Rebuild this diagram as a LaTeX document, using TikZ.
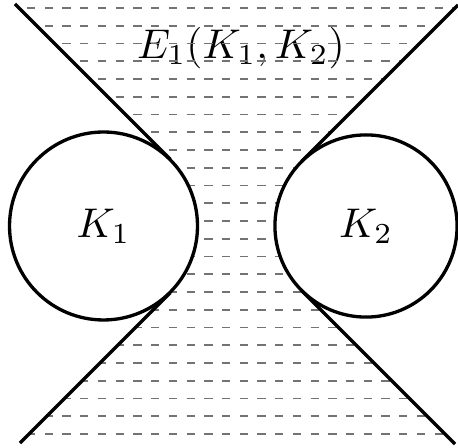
\documentclass[tikz,border=0pt]{standalone}
\usetikzlibrary{calc}

\begin{document}
\begin{tikzpicture}[x=0.241pt, y=0.241pt,
  hatch/.style={black!55, line width=0.4pt, dash pattern=on 2pt off 2.27pt},
  body/.style={circle, draw, thick, fill=white, inner sep=0pt}]
  \useasboundingbox (0,0) rectangle (458,447);

  % Ends of the two tangent lines
  \coordinate (a) at (15,443);
  \coordinate (b) at (20,4);
  \coordinate (c) at (455,3);
  \coordinate (d) at (458,442);

  % Centres of the bodies
  \coordinate (c1) at (103.5,221);
  \coordinate (c2) at (366,221);

  % Tangent points
  \coordinate (t1) at ($(a)!(c1)!(c)$);
  \coordinate (t3) at ($(b)!(c1)!(d)$);
  \coordinate (t2) at ($(b)!(c2)!(d)$);
  \coordinate (t4) at ($(a)!(c2)!(c)$);

  % Label of the region
  \node (title) at (241,399) {$E_1(K_1,K_2)$};

  % Hatched region
  \begin{scope}
    \clip (a) -- (t1) -- (t3) -- (b) -- (c) -- (t4) -- (t2) -- (d) -- cycle;
    \foreach \k in {0,...,24}
      \draw[hatch] (-8.4,439-17.75*\k) -- (470,439-17.75*\k);
  \end{scope}

  % Bodies
  \node[body, minimum size=45.3pt] (k1) at (c1) {$K_1$};
  \node[body, minimum size=43.9pt] (k2) at (c2) {$K_2$};

  % Tangent lines
  \draw[thick] (a) -- (t1);
  \draw[thick] (d) -- (t2);
  \draw[thick] (b) -- (t3);
  \draw[thick] (c) -- (t4);
\end{tikzpicture}
\end{document}
